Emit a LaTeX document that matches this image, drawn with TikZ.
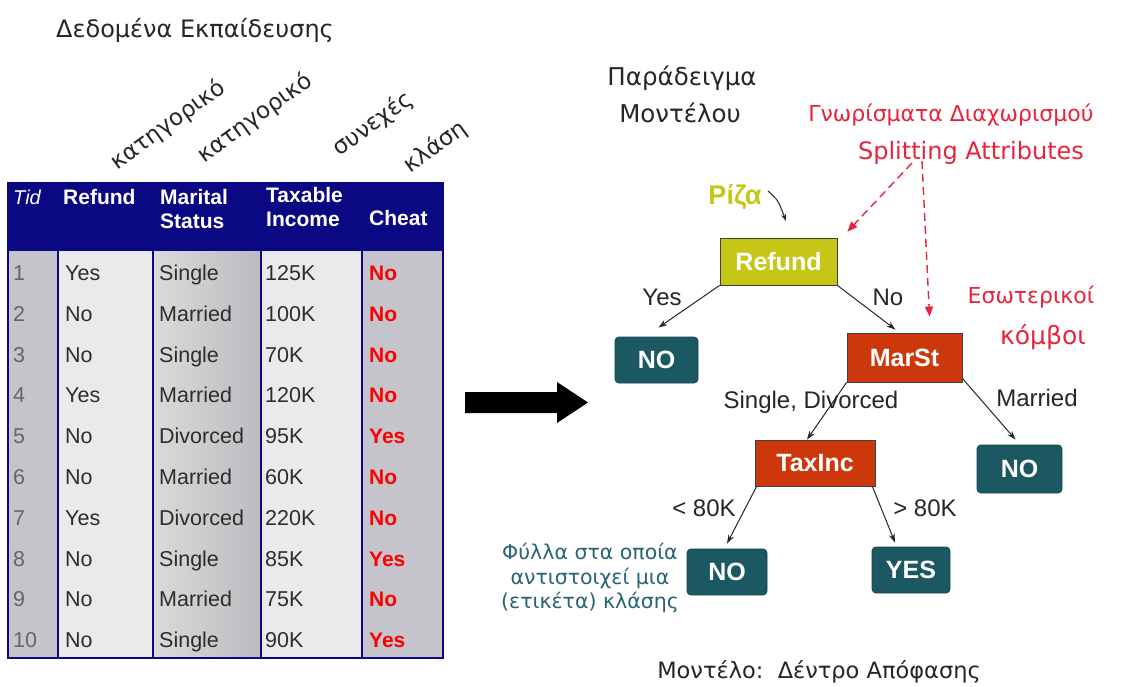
\documentclass[tikz,border=0pt]{standalone}
\usepackage{fontspec}
\setmainfont{Liberation Sans}
\newfontfamily\gr{DejaVu Sans}
\usetikzlibrary{arrows.meta}
\definecolor{navy}{RGB}{10,8,130}
\definecolor{lgray}{RGB}{234,234,236}
\definecolor{dgray}{RGB}{196,196,202}
\definecolor{teal2}{RGB}{28,88,98}
\definecolor{brick}{RGB}{204,56,12}
\definecolor{olive2}{RGB}{198,198,22}
\definecolor{redtxt}{RGB}{232,36,60}
\definecolor{leaftxt}{RGB}{40,100,115}
\definecolor{celltxt}{RGB}{45,45,45}
\begin{document}
\begin{tikzpicture}[x=1pt,y=-1pt,
  cell/.style={anchor=base west,text=celltxt,font=\fontsize{21.5}{21.5}\selectfont,inner sep=0pt},
  cls/.style={anchor=base west,text=red,font=\bfseries\fontsize{21}{21}\selectfont,inner sep=0pt},
  hdr/.style={anchor=base west,text=white,font=\bfseries\fontsize{21}{21}\selectfont,inner sep=0pt},
  rot/.style={rotate=36,font=\gr\fontsize{23}{23}\selectfont,inner sep=0pt,text=black!85},
  inner/.style={draw=black!75,line width=0.8pt,fill=brick,text=white,font=\bfseries\fontsize{25}{25}\selectfont,inner sep=0pt},
  leaf/.style={draw=teal2!80!black,line width=0.8pt,fill=teal2,rounded corners=4pt,text=white,font=\bfseries\fontsize{25}{25}\selectfont,inner sep=0pt},
  edge/.style={-{Stealth[length=9pt,width=6pt]},line width=1pt,black!85},
  lbl/.style={font=\fontsize{24}{24}\selectfont,inner sep=0pt,text=black!85},
  rdash/.style={-{Triangle[length=10pt,width=8pt]},dash pattern=on 8pt off 5pt,line width=1.4pt,redtxt},
  redt/.style={text=redtxt,font=\gr\fontsize{22}{22}\selectfont,inner sep=0pt},
  blk/.style={font=\gr\fontsize{24}{24}\selectfont,text=black!85,inner sep=0pt}
]
\useasboundingbox (0,0) rectangle (1136,687);
\fill[white] (0,0) rectangle (1136,687);

% title
\node[blk] (title) at (195,30) {Δεδομένα Εκπαίδευσης};

% rotated type labels
\node[rot] (t1) at (168,125) {κατηγορικό};
\node[rot] (t2) at (255,118) {κατηγορικό};
\node[rot] (t3) at (373,124) {συνεχές};
\node[rot] (t4) at (435,147) {κλάση};

% table body columns
\fill[dgray] (8,251) rectangle (58,658);
\fill[lgray] (58,251) rectangle (153,658);
\shade[left color={rgb,255:red,218;green,218;blue,220},right color={rgb,255:red,188;green,188;blue,192}] (153,251) rectangle (261,658);
\fill[lgray] (261,251) rectangle (362,658);
\fill[dgray] (362,251) rectangle (443,658);
% header
\fill[navy] (8,183) rectangle (443,251);
\foreach \x in {58,153,261,362} \draw[navy,line width=2.2pt] (\x,251) -- (\x,658);
\draw[navy,line width=1.8pt] (8,183) rectangle (443,658);

\node[hdr,font=\itshape\fontsize{20}{20}\selectfont] (hTid) at (13,205) {Tid};
\node[hdr] (hRef) at (63,205) {Refund};
\node[hdr] (hMar1) at (160,205) {Marital};
\node[hdr] (hMar2) at (160,229) {Status};
\node[hdr] (hTax1) at (266,203) {Taxable};
\node[hdr] (hTax2) at (266,227) {Income};
\node[hdr] (hCh) at (369,226) {Cheat};

\foreach \i/\a/\b/\c/\d in {1/Yes/Single/125K/No,2/No/Married/100K/No,3/No/Single/70K/No,4/Yes/Married/120K/No,5/No/Divorced/95K/Yes,6/No/Married/60K/No,7/Yes/Divorced/220K/No,8/No/Single/85K/Yes,9/No/Married/75K/No,10/No/Single/90K/Yes}{
  \pgfmathsetmacro{\yy}{280.5+(\i-1)*40.8}
  \node[cell,text=black!60] (id\i) at (13,\yy) {\i};
  \node[cell] (ref\i) at (65,\yy) {\a};
  \node[cell] (mar\i) at (159,\yy) {\b};
  \node[cell] (tax\i) at (265,\yy) {\c};
  \node[cls] (ch\i) at (369,\yy) {\d};
}

% big arrow
\fill[black] (465,392) -- (557,392) -- (557,382) -- (588,402.5) -- (557,423) -- (557,413) -- (465,413) -- cycle;

% right side titles
\node[blk,font=\gr\fontsize{24.5}{24.5}\selectfont] (pm1) at (682,78) {Παράδειγμα};
\node[blk,font=\gr\fontsize{24.5}{24.5}\selectfont] (pm2) at (680,113) {Μοντέλου};
\node[redt] (ga) at (951,115) {Γνωρίσματα Διαχωρισμού};
\node[redt,font=\gr\fontsize{24}{24}\selectfont] (sa) at (971,153) {Splitting Attributes};
\node[redt] (es1) at (1031,297) {Εσωτερικοί};
\node[redt,font=\gr\fontsize{25}{25}\selectfont] (es2) at (1043,337) {κόμβοι};
\node[text=olive2,font=\bfseries\fontsize{27}{27}\selectfont,inner sep=0pt] (riza) at (735,197) {Ρίζα};

% tree nodes
\node[inner,fill=olive2,minimum width=117pt,minimum height=47pt] (refund) at (778.5,261.5) {Refund};
\node[leaf,minimum width=83pt,minimum height=46pt] (no1) at (656.5,360) {NO};
\node[inner,minimum width=115pt,minimum height=49pt] (marst) at (904.5,357.5) {MarSt};
\node[inner,minimum width=120pt,minimum height=46pt] (taxinc) at (815,463) {TaxInc};
\node[leaf,minimum width=85pt,minimum height=48pt] (no2) at (1019.5,469) {NO};
\node[leaf,minimum width=80pt,minimum height=46pt] (no3) at (727,572) {NO};
\node[leaf,minimum width=78pt,minimum height=46pt] (yes) at (911,570) {YES};

% edges
\draw[edge] (refund.south west) -- ([yshift=9pt,xshift=2pt]no1.north);
\draw[edge] (refund.south east) -- ([yshift=3pt,xshift=-9pt]marst.north);
\draw[edge] (marst.south west) -- ([xshift=-8pt]taxinc.north);
\draw[edge] ([yshift=4pt]marst.south east) -- ([yshift=5pt,xshift=-4pt]no2.north);
\draw[edge] ([xshift=2pt]taxinc.south west) -- ([yshift=5pt]no3.north);
\draw[edge] ([xshift=-3pt]taxinc.south east) -- ([yshift=4pt,xshift=-16pt]yes.north);

\node[lbl] (lyes) at (662,297) {Yes};
\node[lbl] (lno) at (888,297) {No};
\node[lbl] (lsd) at (811,402) {Single, Divorced};
\node[lbl] (lmar) at (1037,398) {Married};
\node[lbl] (llt) at (704,508) {< 80K};
\node[lbl] (lgt) at (925,508) {> 80K};

% root pointer and dashed arrows
\coordinate (rs) at (768,191);
\coordinate (re) at (786,221);
\draw[-{Stealth[length=7pt,width=5pt]},line width=1pt,black!85] (rs) .. controls (778,200) .. (re);
\coordinate (d1s) at (912,163);
\coordinate (d2s) at (922,161);
\draw[rdash] (d1s) -- ([xshift=10pt,yshift=6pt]refund.north east);
\draw[rdash] (d2s) -- ([xshift=25pt,yshift=16pt]marst.north);

% leaf explanation
\node[text=leaftxt,font=\gr\fontsize{20.5}{24.5}\selectfont,align=center,inner sep=0pt] (leafnote) at (590,578) {Φύλλα στα οποία\\αντιστοιχεί μια\\(ετικέτα) κλάσης};

\node[blk,font=\gr\fontsize{22.5}{22.5}\selectfont] (caption) at (819,672) {Μοντέλο:\ \ Δέντρο Απόφασης};
\end{tikzpicture}
\end{document}
